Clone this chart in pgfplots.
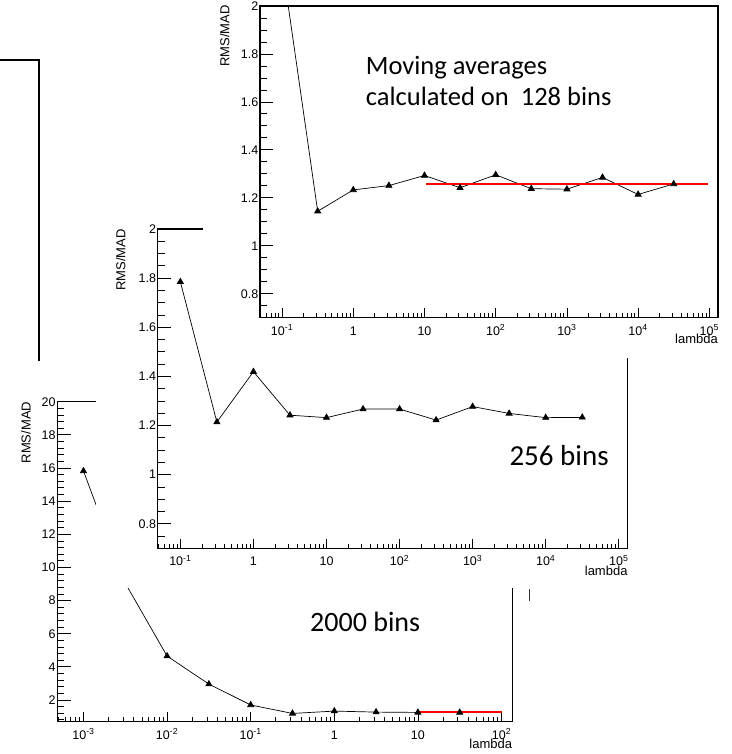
\documentclass[border=0pt]{standalone}
\usepackage{pgfplots}
\pgfplotsset{compat=1.18}
\usepackage{fontspec}
\setmainfont{Liberation Sans}
\newfontfamily\calibri{Carlito}

\begin{document}
\begin{tikzpicture}
\useasboundingbox (0pt,0pt) rectangle (731pt,-754pt);

% ---------- bottom plot: 2000 bins ----------
\begin{axis}[
  name=bot,
  xmode=log, scale only axis,
  at={(57.3pt,-721.7pt)}, anchor=south west,
  width=455pt, height=320pt,
  xmin=4.864e-4, xmax=134.6, ymin=0.69, ymax=20,
  tick align=inside, tick pos=left,
  axis line style={line width=1.2pt},
  tick style={black, line width=0.8pt},
  major tick length=13.5pt, minor tick length=7pt,
  xtick style={/pgfplots/major tick length=9.3pt, /pgfplots/minor tick length=4.5pt},
  tick label style={font=\fontsize{12.5}{13}\selectfont},
  yticklabel style={inner sep=1.5pt},
  xticklabel style={anchor=base, yshift=-17.5pt, inner sep=0pt},
  xtick={0.001,0.01,0.1,1,10,100},
  xticklabels={10\textsuperscript{-3},10\textsuperscript{-2},10\textsuperscript{-1},1,10,10\textsuperscript{2}},
  minor xtick={5e-4,6e-4,7e-4,8e-4,9e-4,0.002,0.003,0.004,0.005,0.006,0.007,0.008,0.009,0.02,0.03,0.04,0.05,0.06,0.07,0.08,0.09,0.2,0.3,0.4,0.5,0.6,0.7,0.8,0.9,2,3,4,5,6,7,8,9,20,30,40,50,60,70,80,90},
  ytick={2,4,6,8,10,12,14,16,18,20},
  minor ytick={0.8,1.2,1.6,2.4,2.8,3.2,3.6,4.4,4.8,5.2,5.6,6.4,6.8,7.2,7.6,8.4,8.8,9.2,9.6,10.4,10.8,11.2,11.6,12.4,12.8,13.2,13.6,14.4,14.8,15.2,15.6,16.4,16.8,17.2,17.6,18.4,18.8,19.2,19.6},
  /pgf/number format/assume math mode=true,
]
\addplot[black, line width=0.7pt, mark=triangle*, mark size=3.5pt, mark options={solid, fill=black}] coordinates {(0.001,15.82) (0.003162,9.05) (0.01,4.65) (0.03162,2.96) (0.1,1.70) (0.3162,1.19) (1,1.33) (3.162,1.27) (10,1.25) (31.62,1.25)};
\addplot[red, line width=1.5pt] coordinates {(10,1.27) (100,1.27)};
\end{axis}
\node[rotate=90, anchor=base east, inner sep=0pt, font=\fontsize{13}{14}\selectfont] at ([xshift=-26.6pt]bot.north west) {RMS/MAD};
\node[anchor=base east, inner sep=0pt, font=\fontsize{13}{14}\selectfont] at ([yshift=-26.8pt]bot.south east) {lambda};
\node[anchor=base west, inner sep=0pt, font=\calibri\fontsize{28}{30}\selectfont] at (310pt,-631.7pt) {2000 bins};

% ---------- middle canvas ----------
\fill[white] (96pt,-205pt) rectangle (660pt,-588.3pt);

% ---------- middle plot: 256 bins ----------
\begin{axis}[
  name=mid,
  xmode=log, scale only axis,
  at={(157.7pt,-548.3pt)}, anchor=south west,
  width=470pt, height=319.3pt,
  xmin=0.04898, xmax=132400, ymin=0.7, ymax=2,
  tick align=inside, tick pos=left,
  axis line style={line width=1.2pt},
  tick style={black, line width=0.8pt},
  major tick length=13.5pt, minor tick length=7pt,
  xtick style={/pgfplots/major tick length=9.3pt, /pgfplots/minor tick length=4.5pt},
  tick label style={font=\fontsize{12.5}{13}\selectfont},
  yticklabel style={inner sep=1.5pt},
  xticklabel style={anchor=base, yshift=-17.5pt, inner sep=0pt},
  xtick={0.1,1,10,100,1000,10000,100000},
  xticklabels={10\textsuperscript{-1},1,10,10\textsuperscript{2},10\textsuperscript{3},10\textsuperscript{4},10\textsuperscript{5}},
  minor xtick={0.05,0.06,0.07,0.08,0.09,0.2,0.3,0.4,0.5,0.6,0.7,0.8,0.9,2,3,4,5,6,7,8,9,20,30,40,50,60,70,80,90,200,300,400,500,600,700,800,900,2000,3000,4000,5000,6000,7000,8000,9000,20000,30000,40000,50000,60000,70000,80000,90000},
  ytick={0.8,1,1.2,1.4,1.6,1.8,2},
  minor ytick={0.75,0.85,0.9,0.95,1.05,1.1,1.15,1.25,1.3,1.35,1.45,1.5,1.55,1.65,1.7,1.75,1.85,1.9,1.95},
  /pgf/number format/assume math mode=true,
]
\addplot[black, line width=0.7pt, mark=triangle*, mark size=3.5pt, mark options={solid, fill=black}] coordinates {(0.1,1.785) (0.3162,1.214) (1,1.419) (3.162,1.242) (10,1.232) (31.62,1.267) (100,1.267) (316.2,1.222) (1000,1.277) (3162,1.249) (10000,1.232) (31620,1.233)};
\end{axis}
\node[rotate=90, anchor=base east, inner sep=0pt, font=\fontsize{13}{14}\selectfont] at ([xshift=-32.4pt]mid.north west) {RMS/MAD};
\node[anchor=base east, inner sep=0pt, font=\fontsize{13}{14}\selectfont] at ([yshift=-26.8pt]mid.south east) {lambda};
\node[anchor=base west, inner sep=0pt, font=\calibri\fontsize{29}{31}\selectfont] at (509.3pt,-465pt) {256 bins};

% ---------- top canvas ----------
\fill[white] (203pt,0pt) rectangle (731pt,-357.5pt);

% ---------- top plot: 128 bins ----------
\begin{axis}[
  name=top,
  xmode=log, scale only axis,
  at={(260pt,-317.7pt)}, anchor=south west,
  width=458pt, height=311.7pt,
  xmin=0.04898, xmax=132400, ymin=0.7, ymax=2,
  tick align=inside, tick pos=left,
  axis line style={line width=1.2pt},
  tick style={black, line width=0.8pt},
  major tick length=13.5pt, minor tick length=7pt,
  xtick style={/pgfplots/major tick length=9.3pt, /pgfplots/minor tick length=4.5pt},
  tick label style={font=\fontsize{12.5}{13}\selectfont},
  yticklabel style={inner sep=1.5pt},
  xticklabel style={anchor=base, yshift=-17.5pt, inner sep=0pt},
  xtick={0.1,1,10,100,1000,10000,100000},
  xticklabels={10\textsuperscript{-1},1,10,10\textsuperscript{2},10\textsuperscript{3},10\textsuperscript{4},10\textsuperscript{5}},
  minor xtick={0.05,0.06,0.07,0.08,0.09,0.2,0.3,0.4,0.5,0.6,0.7,0.8,0.9,2,3,4,5,6,7,8,9,20,30,40,50,60,70,80,90,200,300,400,500,600,700,800,900,2000,3000,4000,5000,6000,7000,8000,9000,20000,30000,40000,50000,60000,70000,80000,90000},
  ytick={0.8,1,1.2,1.4,1.6,1.8,2},
  minor ytick={0.75,0.85,0.9,0.95,1.05,1.1,1.15,1.25,1.3,1.35,1.45,1.5,1.55,1.65,1.7,1.75,1.85,1.9,1.95},
  /pgf/number format/assume math mode=true,
]
\addplot[black, line width=0.7pt, mark=triangle*, mark size=3.5pt, mark options={solid, fill=black}] coordinates {(0.1,2.18) (0.3162,1.144) (1,1.233) (3.162,1.251) (10,1.293) (31.62,1.242) (100,1.296) (316.2,1.238) (1000,1.236) (3162,1.285) (10000,1.214) (31620,1.258)};
\addplot[red, line width=1.5pt] coordinates {(10.5,1.258) (95000,1.258)};
\end{axis}
\node[rotate=90, anchor=base east, inner sep=0pt, font=\fontsize{13}{14}\selectfont] at ([xshift=-30.7pt,yshift=1pt]top.north west) {RMS/MAD};
\node[anchor=base east, inner sep=0pt, font=\fontsize{13}{14}\selectfont] at ([yshift=-25.8pt]top.south east) {lambda};
\node[anchor=base west, inner sep=0pt, font=\calibri\fontsize{26.5}{28}\selectfont] at (365.7pt,-75pt) {Moving averages};
\node[anchor=base west, inner sep=0pt, font=\calibri\fontsize{26.5}{28}\selectfont] at (365.7pt,-106pt) {calculated on\ \ 128 bins};

% ---------- stray frame fragments ----------
\draw[line width=1.8pt] (0pt,-60pt) -- (39.3pt,-60pt) -- (39.3pt,-361pt);
\draw[line width=0.9pt, black!80] (529.3pt,-589pt) -- (529.3pt,-601pt);
\end{tikzpicture}
\end{document}
